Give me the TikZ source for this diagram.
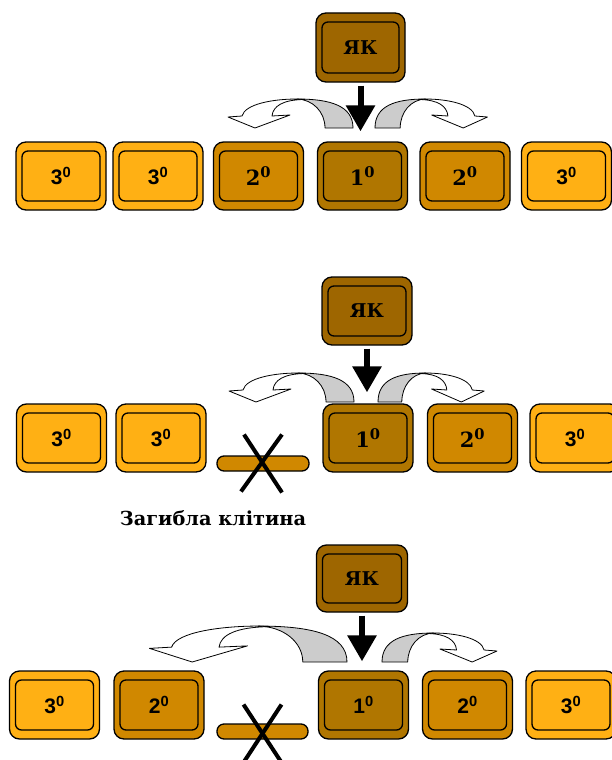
\documentclass[tikz,border=0pt]{standalone}
\usepackage{fontspec}
\setmainfont{DejaVu Serif}
\setsansfont{Liberation Sans}
\usetikzlibrary{arrows.meta}

\definecolor{cellpale}{RGB}{255,176,20}
\definecolor{cellmid}{RGB}{208,136,0}
\definecolor{celldark}{RGB}{176,118,0}
\definecolor{ykbrown}{RGB}{158,102,0}
\definecolor{foldgrey}{RGB}{204,204,204}

\newcommand{\cellsize}{\fontsize{21}{21}\selectfont}
% bent arrow, foot at the origin, head to the left
\newcommand{\bendarrow}{%
    \draw[line width=0.8pt,fill=white,line join=round]
        (-56,-29) .. controls (-80,-29) and (-108,-24) .. (-111,-12)
        -- (-125,-11) -- (-98,0) -- (-63,-13) -- (-81,-12)
        .. controls (-80,-22) and (-70,-28) .. (-50,-28.5) -- cycle;
    \draw[line width=0.8pt,fill=foldgrey,line join=round]
        (0,0) .. controls (0,-22) and (-22,-29) .. (-56,-29)
        .. controls (-40,-28.5) and (-28,-16) .. (-28,0) -- cycle;
}

\tikzset{
    cellbox/.style={draw=black,line width=1.3pt,rounded corners=10pt,
        minimum width=90pt,minimum height=68pt,inner sep=0pt,
        path picture={\draw[line width=1.3pt,rounded corners=6pt]
            ([shift={(6pt,-9pt)}]path picture bounding box.north west) rectangle
            ([shift={(-6pt,9pt)}]path picture bounding box.south east);}},
    ykbox/.style={cellbox,fill=ykbrown,font=\rmfamily\bfseries\fontsize{19}{19}\selectfont},
    deadbar/.style={draw=black,line width=1.3pt,fill=cellmid,rounded corners=7pt,
        minimum width=92pt,minimum height=15pt,inner sep=0pt},
    blackarrow/.style={line width=6pt,-{Triangle[width=28pt,length=26pt]}},
    crossline/.style={line width=4pt}
}

\begin{document}
\begin{tikzpicture}[x=1pt,y=-1pt]
    \useasboundingbox (0,0) rectangle (612,760);

    % first picture
    \node[ykbox,minimum width=89pt,minimum height=69pt] (yk1) at (360.5,47.5) {ЯК};
    \foreach \myx/\mycol/\myfont/\mylabel [count=\myi] in
        {61/cellpale/\sffamily/3,158/cellpale/\sffamily/3,258.5/cellmid/\rmfamily/2,
         362.5/celldark/\rmfamily/1,465/cellmid/\rmfamily/2,566.5/cellpale/\sffamily/3}{
        \node[cellbox,fill=\mycol,font=\myfont\bfseries\cellsize] (a\myi) at (\myx,176)
            {\mylabel\textsuperscript{0}};
    }
    \draw[blackarrow] ([yshift=-3pt]yk1.south) -- ([yshift=10pt]yk1.south |- a4.north);

    % second picture
    \node[ykbox] (yk2) at (367,311) {ЯК};
    \foreach \myx/\mycol/\myfont/\mylabel [count=\myi] in
        {61.5/cellpale/\sffamily/3,161/cellpale/\sffamily/3,
         368/celldark/\rmfamily/1,472.5/cellmid/\rmfamily/2,575/cellpale/\sffamily/3}{
        \node[cellbox,fill=\mycol,font=\myfont\bfseries\cellsize] (b\myi) at (\myx,438)
            {\mylabel\textsuperscript{0}};
    }
    \node[deadbar] (bdead) at (263,463.5) {};
    \draw[crossline] ([shift={(-19,-29)}]bdead.center) -- ([shift={(19,29)}]bdead.center);
    \draw[crossline] ([shift={(19,-29)}]bdead.center) -- ([shift={(-22,28)}]bdead.center);
    \node[font=\rmfamily\bfseries\fontsize{19.3}{19.3}\selectfont] (deadlabel) at (213,518)
        {Загибла клітина};
    \draw[blackarrow] ([yshift=-3pt]yk2.south) -- ([yshift=11pt]yk2.south |- b3.north);

    % third picture
    \node[ykbox,minimum width=91pt,minimum height=67pt] (yk3) at (362,578.5) {ЯК};
    \foreach \myx/\mycol/\mylabel [count=\myi] in
        {54.5/cellpale/3,159/cellmid/2,363.5/celldark/1,467.5/cellmid/2,571/cellpale/3}{
        \node[cellbox,fill=\mycol,font=\sffamily\bfseries\cellsize] (c\myi) at (\myx,705)
            {\mylabel\textsuperscript{0}};
    }
    \node[deadbar,minimum width=91pt] (cdead) at (262.5,731.5) {};
    \draw[crossline] ([shift={(-19,-27)}]cdead.center) -- ([shift={(19,31)}]cdead.center);
    \draw[crossline] ([shift={(19,-27)}]cdead.center) -- ([shift={(-19,31)}]cdead.center);
    \draw[blackarrow] ([yshift=-3pt]yk3.south) -- ([yshift=9pt]yk3.south |- c3.north);

    % bent arrows to the neighbours
    \foreach \myx/\myy/\mysx/\mysy in
        {353/128/1/1,375/128/-0.9/1,354/402/1/1,378/402/-0.85/1,
         347/662/1.58/1.24,382/662/-0.92/1}{
        \begin{scope}[shift={(\myx,\myy)},xscale=\mysx,yscale=\mysy]
            \bendarrow
        \end{scope}
    }
\end{tikzpicture}
\end{document}
